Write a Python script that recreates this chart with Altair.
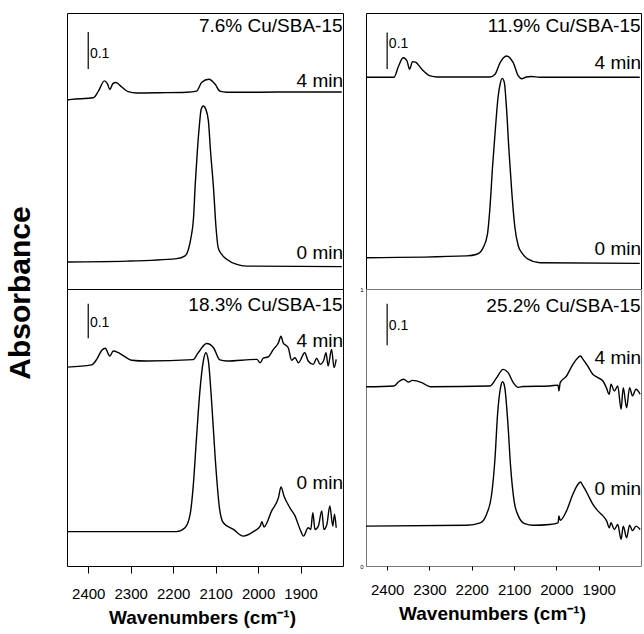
import altair as alt
import pandas as pd

# ---------------- spectra (wavenumber in cm-1, absorbance in panel units 0..1) -------------
tl4_wn = [2450, 2439, 2388, 2376, 2362, 2355, 2349, 2342, 2335, 2321, 2306, 2286, 2231, 2168,
          2145, 2133, 2116, 2101, 2090, 2074, 1995, 1917, 1803]
tl4_ab = [0.685, 0.687, 0.693, 0.717, 0.754, 0.744, 0.723, 0.744, 0.748, 0.732, 0.715, 0.710,
          0.711, 0.713, 0.717, 0.748, 0.760, 0.742, 0.717, 0.713, 0.713, 0.714, 0.714]
tl0_wn = [2450, 2309, 2192, 2172, 2164, 2158, 2152, 2148, 2143, 2138, 2134, 2129, 2123, 2117,
          2112, 2105, 2099, 2094, 2086, 2074, 2050, 2027, 1803]
tl0_ab = [0.098, 0.101, 0.110, 0.120, 0.144, 0.186, 0.258, 0.379, 0.500, 0.597, 0.651, 0.663,
          0.651, 0.609, 0.500, 0.367, 0.222, 0.150, 0.126, 0.108, 0.089, 0.083, 0.081]

tr4_wn = [2450, 2384, 2373, 2362, 2353, 2347, 2340, 2333, 2318, 2298, 2282, 2157, 2145, 2133,
          2118, 2102, 2090, 2082, 2071, 2059, 2039, 1803]
tr4_ab = [0.767, 0.767, 0.808, 0.838, 0.826, 0.796, 0.824, 0.822, 0.796, 0.772, 0.768, 0.768,
          0.778, 0.820, 0.844, 0.820, 0.772, 0.762, 0.768, 0.770, 0.767, 0.767]
tr0_wn = [2450, 2212, 2188, 2173, 2163, 2157, 2151, 2144, 2138, 2133, 2128, 2123, 2118, 2112,
          2105, 2098, 2090, 2082, 2067, 2039, 1803]
tr0_ab = [0.113, 0.120, 0.126, 0.150, 0.198, 0.295, 0.440, 0.584, 0.693, 0.742, 0.763, 0.748,
          0.657, 0.500, 0.343, 0.222, 0.156, 0.132, 0.108, 0.095, 0.093]

bl4_wn = [2450, 2392, 2380, 2368, 2360, 2349, 2341, 2329, 2313, 2298, 2262, 2153, 2141, 2121,
          2105, 2090, 2074, 2003, 1995, 1988, 1976, 1964, 1952, 1946, 1941, 1929, 1921, 1913,
          1905, 1890, 1882, 1870, 1862, 1854, 1846, 1840, 1835, 1827, 1821, 1816]
bl4_ab = [0.718, 0.726, 0.746, 0.779, 0.786, 0.758, 0.776, 0.770, 0.755, 0.743, 0.740, 0.745,
          0.770, 0.803, 0.788, 0.744, 0.740, 0.746, 0.734, 0.750, 0.755, 0.782, 0.806, 0.830,
          0.806, 0.788, 0.743, 0.752, 0.734, 0.770, 0.740, 0.728, 0.750, 0.728, 0.740, 0.770,
          0.722, 0.782, 0.716, 0.746]
bl0_wn = [2450, 2192, 2172, 2160, 2153, 2145, 2137, 2129, 2123, 2117, 2109, 2101, 2091, 2082,
          2058, 2035, 2011, 1995, 1991, 1986, 1968, 1952, 1946, 1939, 1925, 1913, 1901, 1893,
          1882, 1876, 1871, 1866, 1858, 1850, 1845, 1838, 1831, 1824, 1820, 1816]
bl0_ab = [0.124, 0.124, 0.138, 0.187, 0.283, 0.463, 0.632, 0.740, 0.770, 0.740, 0.584, 0.391,
          0.210, 0.156, 0.132, 0.108, 0.124, 0.144, 0.160, 0.141, 0.199, 0.247, 0.285, 0.253,
          0.210, 0.181, 0.132, 0.108, 0.138, 0.132, 0.192, 0.132, 0.144, 0.199, 0.132, 0.150,
          0.217, 0.144, 0.187, 0.138]

br4_wn = [2450, 2384, 2373, 2361, 2349, 2341, 2318, 2298, 2157, 2141, 2126, 2114, 2102, 2090,
          2079, 2016, 1996, 1994, 1991, 1976, 1961, 1949, 1943, 1937, 1926, 1914, 1902, 1890,
          1882, 1875, 1871, 1863, 1855, 1847, 1842, 1834, 1827, 1820, 1812, 1802]
br4_ab = [0.647, 0.650, 0.665, 0.674, 0.664, 0.670, 0.662, 0.647, 0.650, 0.680, 0.710, 0.698,
          0.662, 0.645, 0.648, 0.650, 0.653, 0.632, 0.662, 0.686, 0.728, 0.752, 0.758, 0.746,
          0.722, 0.692, 0.680, 0.668, 0.644, 0.620, 0.656, 0.632, 0.650, 0.566, 0.644, 0.571,
          0.644, 0.614, 0.638, 0.620]
br0_wn = [2450, 2212, 2180, 2165, 2153, 2145, 2139, 2132, 2127, 2122, 2115, 2108, 2100, 2090,
          2075, 2055, 2016, 1996, 1994, 1991, 1976, 1961, 1949, 1943, 1937, 1926, 1914, 1902,
          1890, 1881, 1875, 1871, 1863, 1855, 1847, 1842, 1834, 1827, 1820, 1812, 1802]
br0_ab = [0.144, 0.147, 0.156, 0.187, 0.259, 0.391, 0.548, 0.644, 0.665, 0.644, 0.523, 0.355,
          0.235, 0.181, 0.153, 0.147, 0.150, 0.156, 0.181, 0.165, 0.199, 0.259, 0.295, 0.303,
          0.289, 0.259, 0.223, 0.199, 0.181, 0.162, 0.138, 0.156, 0.132, 0.150, 0.096, 0.144,
          0.102, 0.147, 0.128, 0.144, 0.132]

# ---------------- annotations ----------------
panels = ["TL", "TR", "BL", "BR"]
sample_titles = ["7.6% Cu/SBA-15", "11.9% Cu/SBA-15", "18.3% Cu/SBA-15", "25.2% Cu/SBA-15"]
title_ab = [0.953, 0.953, 0.942, 0.939]
label4_ab = [0.754, 0.820, 0.812, 0.752]
label0_ab = [0.130, 0.144, 0.301, 0.277]
bar_lo = [0.797, 0.797, 0.822, 0.797]
bar_hi = [0.931, 0.929, 0.947, 0.947]
bar_text_ab = [0.853, 0.888, 0.878, 0.866]
bar_wn = 2400
bar_text = "0.1"
tick_values = [2400, 2300, 2200, 2100, 2000, 1900]
x_title = "Wavenumbers (cm⁻¹)"

spectra = {
    "TL": [("4 min", tl4_wn, tl4_ab), ("0 min", tl0_wn, tl0_ab)],
    "TR": [("4 min", tr4_wn, tr4_ab), ("0 min", tr0_wn, tr0_ab)],
    "BL": [("4 min", bl4_wn, bl4_ab), ("0 min", bl0_wn, bl0_ab)],
    "BR": [("4 min", br4_wn, br4_ab), ("0 min", br0_wn, br0_ab)],
}

FONT = "Liberation Sans"


def make_panel(i, x_axis, y_axis, stroke, height):
    p = panels[i]
    rows = []
    for name, wns, abs_ in spectra[p]:
        for k, (w, a) in enumerate(zip(wns, abs_)):
            rows.append({"series": name, "wn": w, "ab": a, "idx": k})
    df = pd.DataFrame(rows)

    xs = alt.Scale(domain=[2450, 1800], nice=False, zero=False)
    ys = alt.Scale(domain=[0, 1], nice=False, zero=False)

    line = alt.Chart(df).mark_line(
        color="black", strokeWidth=1.4, interpolate="monotone"
    ).encode(
        x=alt.X("wn:Q", scale=xs, axis=x_axis),
        y=alt.Y("ab:Q", scale=ys, axis=y_axis),
        detail="series:N",
        order="idx:Q",
    )

    bar_df = pd.DataFrame({"wn": [bar_wn], "ab": [bar_lo[i]], "ab2": [bar_hi[i]]})
    bar = alt.Chart(bar_df).mark_rule(color="black", strokeWidth=1.2).encode(
        x="wn:Q", y="ab:Q", y2="ab2:Q"
    )
    bt_df = pd.DataFrame({"wn": [bar_wn - 4], "ab": [bar_text_ab[i]], "t": [bar_text]})
    bar_txt = alt.Chart(bt_df).mark_text(
        align="left", baseline="middle", fontSize=14, font=FONT, color="black"
    ).encode(x="wn:Q", y="ab:Q", text="t:N")

    lab_df = pd.DataFrame({
        "wn": [1801, 1800, 1800],
        "ab": [title_ab[i], label4_ab[i], label0_ab[i]],
        "t": [sample_titles[i], "4 min", "0 min"],
    })
    labels = alt.Chart(lab_df).mark_text(
        align="right", baseline="middle", fontSize=19, font=FONT, color="black"
    ).encode(x="wn:Q", y="ab:Q", text="t:N")

    w = 276 if i % 2 == 0 else 275
    return alt.layer(line, bar, bar_txt, labels).properties(
        width=w, height=height,
        view=alt.ViewBackground(stroke=stroke, strokeWidth=1, fill="white"),
    )


def x_axis(tick, pad, tx):
    return alt.Axis(
        values=tick_values, format="d", grid=False, domain=False,
        tickSize=tick, tickColor="black", tickWidth=1,
        labelFontSize=15, labelFont=FONT, labelColor="black", labelPadding=pad,
        title=x_title, titleFontSize=19, titleFont=FONT, titleFontWeight="bold",
        titleColor="black", titlePadding=7, titleX=tx,
    )


y_axis_br = alt.Axis(
    values=[0, 1], format="d", grid=False, domain=False, ticks=False,
    labelFontSize=6, labelFont=FONT, labelColor="black", labelPadding=3, title=None,
)

tl = make_panel(0, None, None, "black", 276)
tr = make_panel(1, None, None, "black", 276)
bl = make_panel(2, x_axis(7, 13, 135), None, "black", 277)
br = make_panel(3, x_axis(4, 12, 126), y_axis_br, "#777777", 277)

chart = alt.concat(
    tl, tr, bl, br, columns=2, spacing={"row": 0, "column": 23}, bounds="flush"
).properties(
    title=alt.TitleParams(
        "Absorbance", orient="left", anchor="middle", fontSize=30, fontWeight="bold",
        font=FONT, color="black", offset=28, dx=27,
    ),
    padding={"left": 5, "top": 12, "right": 0, "bottom": 0},
).configure(font=FONT).configure_view(stroke="black")

chart.save("out.html", embed_options={"renderer": "svg", "actions": False})
